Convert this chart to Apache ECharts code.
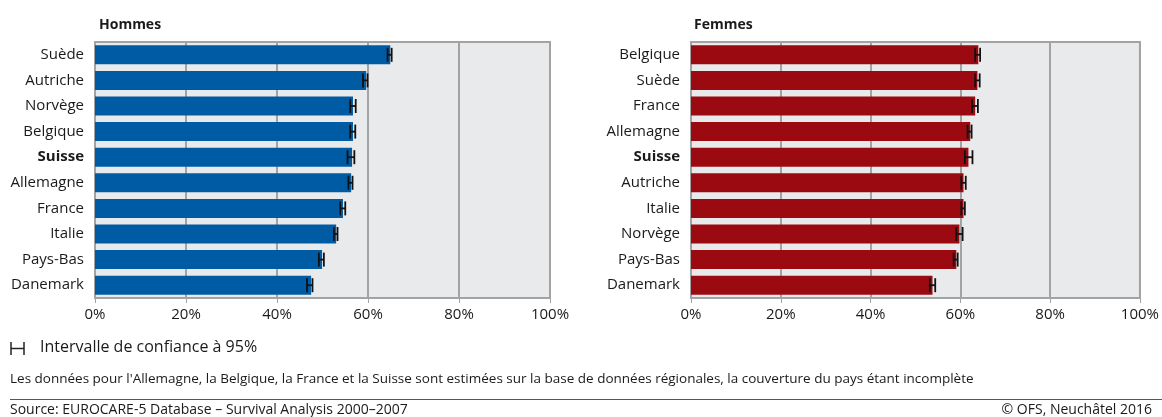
<!DOCTYPE html>
<html>
<head>
<meta charset="utf-8">
<script src="https://cdn.jsdelivr.net/npm/echarts@6/dist/echarts.min.js"></script>
<style>
  html, body { margin: 0; padding: 0; background: #fff; }
  #chart { width: 1162px; height: 417px; }
</style>
</head>
<body>
<div id="chart"></div>
<script>
// Hommes
const menCountries = ["Suède", "Autriche", "Norvège", "Belgique", "Suisse", "Allemagne", "France", "Italie", "Pays-Bas", "Danemark"];
const menValues = [64.9, 59.6, 56.7, 56.7, 56.5, 56.3, 54.5, 53.0, 49.9, 47.5];
const menLow = [64.3, 58.9, 56.1, 56.1, 55.5, 55.7, 53.9, 52.5, 49.2, 46.6];
const menHigh = [65.2, 59.9, 57.3, 57.2, 57.0, 56.6, 55.0, 53.3, 50.3, 47.8];

// Femmes
const womenCountries = ["Belgique", "Suède", "France", "Allemagne", "Suisse", "Autriche", "Italie", "Norvège", "Pays-Bas", "Danemark"];
const womenValues = [64.0, 63.8, 63.3, 62.2, 61.8, 60.7, 60.7, 59.8, 59.1, 53.8];
const womenLow = [63.3, 63.3, 62.6, 61.6, 61.0, 60.2, 60.2, 59.1, 58.5, 53.2];
const womenHigh = [64.4, 64.3, 63.9, 62.5, 62.7, 61.2, 61.0, 60.5, 59.4, 54.4];

const xTicks = [0, 20, 40, 60, 80, 100];

const FONT = "'Open Sans', 'Noto Sans', sans-serif";
const textColor = "#1a1a1a";
const gridColor = "#a3a3a3";

let myChart = echarts.init(document.getElementById("chart"));

function ciData(low, high) {
  let out = [];
  low.map((l, i) => {
    out.push([l, high[i], i]);
  });
  return out;
}

function renderCI(params, api) {
  let p1 = api.coord([api.value(0), api.value(2)]);
  let p2 = api.coord([api.value(1), api.value(2)]);
  let h = 7;
  let style = { stroke: "#111", lineWidth: 1.8, fill: null };
  return {
    type: "group",
    children: [
      { type: "line", shape: { x1: p1[0], y1: p1[1] - h, x2: p1[0], y2: p1[1] + h }, style: style },
      { type: "line", shape: { x1: p2[0], y1: p2[1] - h, x2: p2[0], y2: p2[1] + h }, style: style },
      { type: "line", shape: { x1: p1[0], y1: p1[1], x2: p2[0], y2: p2[1] }, style: style },
    ],
  };
}

function xAxisCfg(gridIndex) {
  return {
    gridIndex: gridIndex,
    type: "value",
    min: 0,
    max: 100,
    interval: 20,
    axisLine: { show: true, lineStyle: { color: gridColor, width: 2 } },
    axisTick: { show: true, length: 5, lineStyle: { color: gridColor, width: 1 } },
    axisLabel: {
      color: textColor,
      fontFamily: FONT,
      fontSize: 15,
      margin: 9,
      formatter: function (v) {
        return xTicks.indexOf(v) >= 0 ? v + "%" : "";
      },
    },
    splitLine: { show: true, lineStyle: { color: gridColor, width: 2 } },
  };
}

function yAxisCfg(gridIndex, cats) {
  return {
    gridIndex: gridIndex,
    type: "category",
    inverse: true,
    data: cats,
    axisLine: { show: true, lineStyle: { color: gridColor, width: 2 } },
    axisTick: { show: false },
    axisLabel: {
      color: textColor,
      fontFamily: FONT,
      fontSize: 15,
      margin: 11,
      formatter: function (v) {
        return v === "Suisse" ? "{b|" + v + "}" : v;
      },
      rich: {
        b: { fontWeight: "bold", color: textColor, fontFamily: FONT, fontSize: 15 },
      },
    },
    splitLine: { show: false },
  };
}

let option = {
  animation: false,
  backgroundColor: "#fff",
  title: [
    { text: "Hommes", left: 94, top: 13, textStyle: { fontFamily: FONT, fontSize: 14, fontWeight: "bold", color: textColor } },
    { text: "Femmes", left: 689, top: 13, textStyle: { fontFamily: FONT, fontSize: 14, fontWeight: "bold", color: textColor } },
  ],
  grid: [
    { left: 95, right: 612, top: 42, height: 256, show: true, backgroundColor: "#e9eaec", borderColor: gridColor, borderWidth: 2 },
    { left: 691, right: 19, top: 42, height: 256, show: true, backgroundColor: "#e9eaec", borderColor: gridColor, borderWidth: 2 },
  ],
  xAxis: [xAxisCfg(0), xAxisCfg(1)],
  yAxis: [yAxisCfg(0, menCountries), yAxisCfg(1, womenCountries)],
  series: [
    {
      name: "Hommes",
      type: "bar",
      xAxisIndex: 0,
      yAxisIndex: 0,
      barWidth: 19,
      itemStyle: { color: "#005ba5" },
      data: menValues,
    },
    {
      name: "Hommes IC",
      type: "custom",
      xAxisIndex: 0,
      yAxisIndex: 0,
      renderItem: renderCI,
      encode: { x: [0, 1], y: 2 },
      data: ciData(menLow, menHigh),
      z: 3,
    },
    {
      name: "Femmes",
      type: "bar",
      xAxisIndex: 1,
      yAxisIndex: 1,
      barWidth: 19,
      itemStyle: { color: "#9b0a10" },
      data: womenValues,
    },
    {
      name: "Femmes IC",
      type: "custom",
      xAxisIndex: 1,
      yAxisIndex: 1,
      renderItem: renderCI,
      encode: { x: [0, 1], y: 2 },
      data: ciData(womenLow, womenHigh),
      z: 3,
    },
  ],
  graphic: [
    // legend symbol
    { type: "line", shape: { x1: 11, y1: 342, x2: 11, y2: 355 }, style: { stroke: "#222", lineWidth: 1.5 } },
    { type: "line", shape: { x1: 24, y1: 342, x2: 24, y2: 355 }, style: { stroke: "#222", lineWidth: 1.5 } },
    { type: "line", shape: { x1: 11, y1: 348.5, x2: 24, y2: 348.5 }, style: { stroke: "#222", lineWidth: 1.5 } },
    {
      type: "text", left: 40, top: 339,
      style: { text: "Intervalle de confiance à 95%", fontFamily: FONT, fontSize: 16, fill: textColor },
    },
    {
      type: "text", left: 10, top: 372,
      style: {
        text: "Les données pour l'Allemagne, la Belgique, la France et la Suisse sont estimées sur la base de données régionales, la couverture du pays étant incomplète",
        fontFamily: FONT, fontSize: 13.5, fill: textColor,
      },
    },
    { type: "line", shape: { x1: 10, y1: 399.5, x2: 1162, y2: 399.5 }, style: { stroke: "#555", lineWidth: 1 } },
    {
      type: "text", left: 10, top: 403,
      style: { text: "Source: EUROCARE-5 Database – Survival Analysis 2000–2007", fontFamily: FONT, fontSize: 14, fill: textColor },
    },
    {
      type: "text", right: 10, top: 403,
      style: { text: "© OFS, Neuchâtel 2016", fontFamily: FONT, fontSize: 14, fill: textColor },
    },
  ],
};

myChart.setOption(option);
</script>
</body>
</html>
